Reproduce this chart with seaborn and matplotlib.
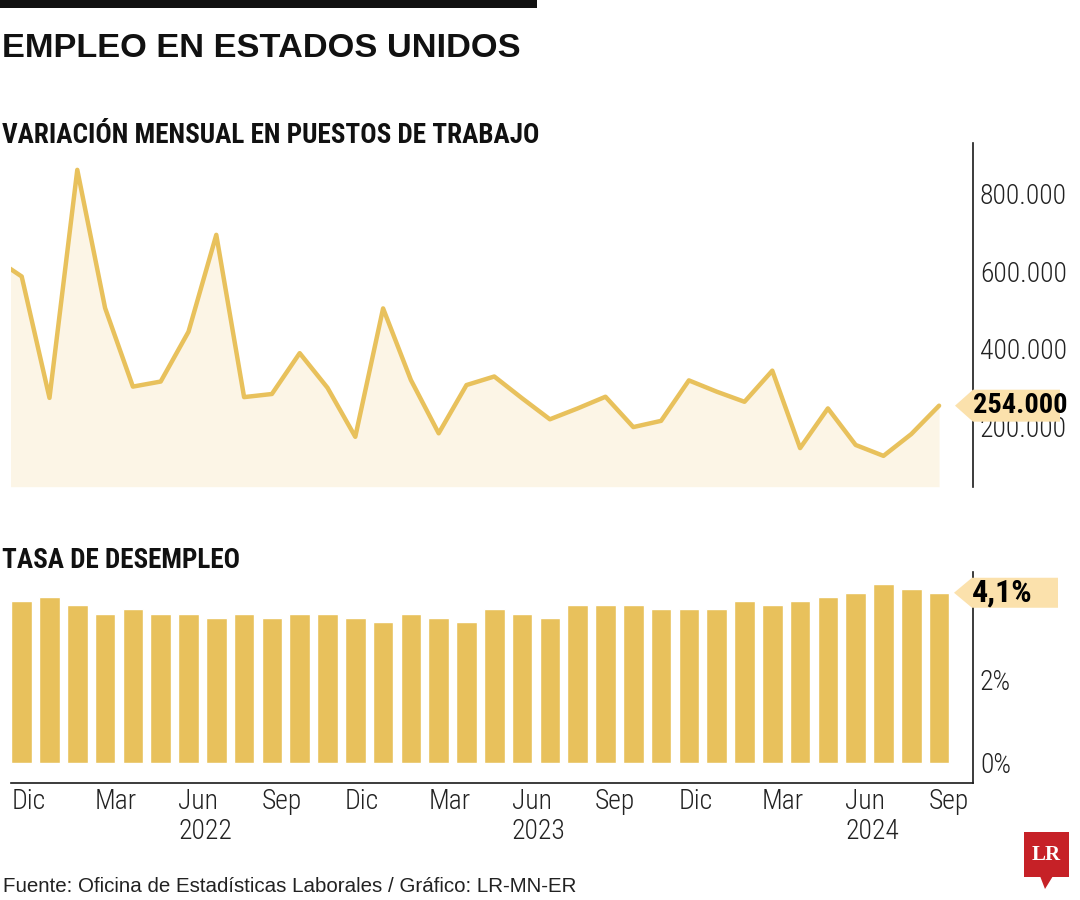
import numpy as np
import matplotlib
matplotlib.use("Agg")
import matplotlib.pyplot as plt
from matplotlib import font_manager
from matplotlib.font_manager import FontProperties
from matplotlib.textpath import TextPath
from matplotlib.patches import Polygon, Rectangle
import seaborn as sns

# Nov 2021 is only the lead-in of the line, it gets clipped at the left edge
empleos_previo = 634000
# Dec 2021 .. Sep 2024, monthly change in payrolls
empleos = [586000, 274000, 860000, 505000, 303000, 316000, 444000, 693000,
           276000, 284000, 389000, 300000, 174000, 504000, 320000, 183000,
           307000, 329000, 273000, 219000, 247000, 277000, 199000, 215000,
           319000, 290000, 264000, 344000, 145000, 247000, 153000, 125000,
           181000, 254000]
# unemployment rate (%), same months
desempleo = [3.9, 4.0, 3.8, 3.6, 3.7, 3.6, 3.6, 3.5, 3.6, 3.5, 3.6, 3.6,
             3.5, 3.4, 3.6, 3.5, 3.4, 3.7, 3.6, 3.5, 3.8, 3.8, 3.8, 3.7,
             3.7, 3.7, 3.9, 3.8, 3.9, 4.0, 4.1, 4.3, 4.2, 4.1]
meses = ["Dic", "Mar", "Jun\n2022", "Sep", "Dic", "Mar", "Jun\n2023",
         "Sep", "Dic", "Mar", "Jun\n2024", "Sep"]
ticks_empleo = [200000, 400000, 600000, 800000]
ticks_tasa = [0, 2]
etiqueta_empleo = "254.000"
etiqueta_tasa = "4,1%"

W, H = 1080, 900
AMARILLO = "#e8c15c"
RELLENO = "#fcf5e6"
ETIQUETA = "#fbe1ac"
NEGRO = "#1a1a1a"

sns.set_style("white")

# pick a condensed face if the machine has one
lista = font_manager.fontManager.ttflist
nombres = {f.name for f in lista}
ANGOSTA, ESTIRA = "Liberation Sans", "normal"
for n in ["Roboto Condensed", "Open Sans Condensed", "Noto Sans Condensed",
          "Liberation Sans Narrow", "DejaVu Sans Condensed"]:
    if n in nombres:
        ANGOSTA = n
        break
else:
    for f in lista:
        if f.stretch in ("condensed", "semi-condensed") and "Mono" not in f.name and "Serif" not in f.name:
            ANGOSTA, ESTIRA = f.name, f.stretch
            break
plt.rcParams["font.family"] = [ANGOSTA, "DejaVu Sans"]
plt.rcParams["font.stretch"] = ESTIRA


def tam(texto, ancho_px, maximo, family=None, weight="normal"):
    # font size (pt) so that texto is about ancho_px wide
    fp = FontProperties(family=family or ANGOSTA, weight=weight, stretch=ESTIRA, size=10)
    w = TextPath((0, 0), texto, prop=fp).get_extents().width * 100 / 72
    return min(maximo, 10 * ancho_px / w)


def fx(x):
    return x / W


def fy(y):
    return 1 - y / H


fig = plt.figure(figsize=(W / 100, H / 100), dpi=100)
fig.patch.set_facecolor("white")

idx = np.arange(len(empleos))
xlim = (-0.372, 34.22)
t_ticks = tam("800.000", 84, 22, weight="light")

# ---- top: monthly job change ----
ax1 = fig.add_axes([fx(11.35), fy(486.7), fx(973 - 11.35), (486.7 - 143) / H])
x_linea = np.concatenate([[-1], idx])
y_linea = np.concatenate([[empleos_previo], empleos])
base = 45800
ax1.fill_between(x_linea, y_linea, base, color=RELLENO, lw=0)
sns.lineplot(x=x_linea, y=y_linea, ax=ax1, color=AMARILLO, linewidth=3.2)
ax1.set_xlim(*xlim)
ax1.set_ylim(base, 929000)
ax1.yaxis.tick_right()
ax1.set_yticks(ticks_empleo)
ax1.set_yticklabels([f"{v:,.0f}".replace(",", ".") for v in ticks_empleo],
                    fontweight="light")
ax1.tick_params(axis="y", length=0, pad=5, labelsize=t_ticks, labelcolor="#222222")
ax1.set_xticks([])
ax1.set_xlabel("")
ax1.set_ylabel("")
for s in ["top", "left", "bottom"]:
    ax1.spines[s].set_visible(False)
ax1.spines["right"].set_color(NEGRO)
ax1.spines["right"].set_linewidth(1.2)

# ---- bottom: unemployment rate ----
ax2 = fig.add_axes([fx(11.35), fy(782.5), fx(973 - 11.35), (782.5 - 572) / H])
sns.barplot(x=idx, y=desempleo, ax=ax2, color=AMARILLO, saturation=1,
            width=0.745, errorbar=None)
ax2.set_xlim(*xlim)
ax2.set_ylim(-0.47, 4.6)
ax2.yaxis.tick_right()
ax2.set_yticks(ticks_tasa)
ax2.set_yticklabels([f"{v}%" for v in ticks_tasa], fontweight="light")
ax2.tick_params(axis="y", length=0, pad=5, labelsize=t_ticks, labelcolor="#222222")
ax2.set_xticks(np.arange(0, len(empleos), 3) - 0.3725)
ax2.set_xticklabels(meses, ha="left", linespacing=1.15, fontweight="light")
ax2.tick_params(axis="x", length=0, pad=4, labelsize=t_ticks, labelcolor="#222222")
ax2.set_xlabel("")
ax2.set_ylabel("")
for s in ["top", "left"]:
    ax2.spines[s].set_visible(False)
for s in ["right", "bottom"]:
    ax2.spines[s].set_color(NEGRO)
    ax2.spines[s].set_linewidth(1.2)


# ---- value tags pointing to the last point ----
def etiqueta(ax, xv, yv, texto, x_punta, x_der, medio, ancho_txt):
    _, ty = ax.transData.transform((xv, yv))
    ty = H - ty
    pts = [(x_punta, ty), (x_punta + 18, ty - medio), (x_der, ty - medio),
           (x_der, ty + medio), (x_punta + 18, ty + medio)]
    fig.add_artist(Polygon([(fx(a), fy(b)) for a, b in pts], closed=True,
                           transform=fig.transFigure, facecolor=ETIQUETA,
                           edgecolor="none", zorder=5))
    fig.text(fx(x_punta + 18), fy(ty), texto,
             fontsize=tam(texto, ancho_txt, 23, weight="bold"),
             fontweight="bold", color="black", ha="left", va="center", zorder=6)


etiqueta(ax1, idx[-1], empleos[-1], etiqueta_empleo, 955, 1060, 16, 92)
etiqueta(ax2, idx[-1], desempleo[-1], etiqueta_tasa, 954, 1058, 15, 60)

# ---- titles ----
fig.add_artist(Rectangle((0, fy(8)), fx(537), 8 / H, transform=fig.transFigure,
                         facecolor="#111111", edgecolor="none"))
titulo = "EMPLEO EN ESTADOS UNIDOS"
fig.text(fx(2), fy(57), titulo,
         fontsize=tam(titulo, 516, 26, family="Liberation Sans", weight="bold"),
         fontweight="bold", family=["Liberation Sans", "DejaVu Sans"],
         fontstretch="normal", color="#111111", va="baseline")
sub1 = "VARIACIÓN MENSUAL EN PUESTOS DE TRABAJO"
fig.text(fx(2), fy(143), sub1, fontsize=tam(sub1, 536, 23, weight="bold"),
         fontweight="bold", color="#111111", va="baseline")
sub2 = "TASA DE DESEMPLEO"
fig.text(fx(2), fy(568), sub2, fontsize=tam(sub2, 236, 23, weight="bold"),
         fontweight="bold", color="#111111", va="baseline")
fuente = "Fuente: Oficina de Estadísticas Laborales / Gráfico: LR-MN-ER"
fig.text(fx(3), fy(886), fuente,
         fontsize=tam(fuente, 572, 15, family="Liberation Sans"),
         family=["Liberation Sans", "DejaVu Sans"], fontstretch="normal",
         color="#222222", va="center")

# ---- LR logo ----
fig.add_artist(Rectangle((fx(1024), fy(877)), fx(45), 45 / H,
                         transform=fig.transFigure, facecolor="#c62127",
                         edgecolor="none"))
fig.add_artist(Polygon([(fx(1040), fy(876)), (fx(1053), fy(876)), (fx(1045), fy(889))],
                       closed=True, transform=fig.transFigure,
                       facecolor="#c62127", edgecolor="none"))
fig.text(fx(1046.5), fy(855), "LR", fontsize=15, fontweight="bold",
         family=["Liberation Serif", "DejaVu Serif"], fontstretch="normal",
         color="white", ha="center", va="center")

fig.savefig("out.png", dpi=100)
